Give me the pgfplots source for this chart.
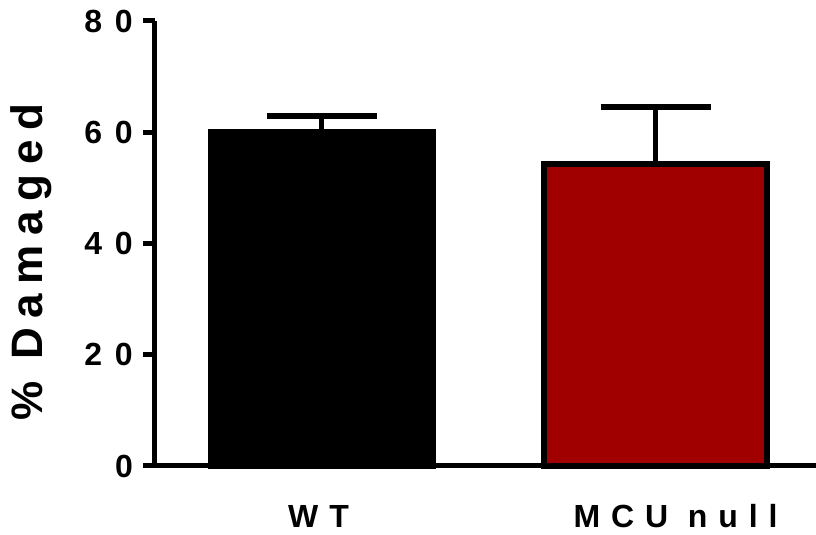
\documentclass[border=0pt]{standalone}
\usepackage{fontspec}
\setmainfont{Liberation Sans}
\newfontfamily\tickfont[LetterSpace=40]{Liberation Sans}
\newfontfamily\xlabfont[LetterSpace=34]{Liberation Sans}
\newfontfamily\ylabfont[LetterSpace=22]{Liberation Sans}
\usepackage{pgfplots}
\pgfplotsset{compat=1.18}
\definecolor{mcured}{RGB}{160,0,0}
\begin{document}
\begin{tikzpicture}
\path[use as bounding box] (-155pt,-69pt) rectangle (661pt,466pt);
\begin{axis}[
  scale only axis,
  width=661pt, height=445pt,
  xmin=-0.5, xmax=1.481,
  ymin=0, ymax=80,
  axis x line=bottom, axis y line=left,
  axis line style={line width=5pt, -},
  ytick={0,20,40,60,80},
  xtick={-0.01,1.06},
  xticklabels={WT, MCU null},
  x tick style={draw=none},
  major x tick style={draw=none},
  y tick style={line width=5pt, black},
  tick align=outside,
  major tick length=12pt,
  /pgf/number format/assume math mode=true,
  yticklabel style={font=\fontsize{32}{32}\selectfont\tickfont\bfseries, inner sep=1pt, xshift=-9pt},
  xticklabel style={font=\fontsize{32}{32}\selectfont\xlabfont\bfseries, anchor=base, yshift=-49pt},
  ylabel={\% Damaged},
  ylabel style={font=\fontsize{44}{44}\selectfont\ylabfont\bfseries, at={(axis description cs:-0.1876,0.458)}, anchor=center, rotate=0},
  clip=false,
]
\addplot[ybar, bar width=0.667, fill=black, draw=black, line width=6pt,
  error bars/.cd, y dir=plus, y explicit,
  error bar style={line width=5pt, black},
  error mark options={rotate=90, line width=6pt, mark size=55pt, black}]
  coordinates {(0,60.0) +- (0,2.9)};
\addplot[ybar, bar width=0.667, fill=mcured, draw=black, line width=6pt,
  error bars/.cd, y dir=plus, y explicit,
  error bar style={line width=5pt, black},
  error mark options={rotate=90, line width=6pt, mark size=55pt, black}]
  coordinates {(1,54.3) +- (0,10.2)};
\end{axis}
\end{tikzpicture}
\end{document}
